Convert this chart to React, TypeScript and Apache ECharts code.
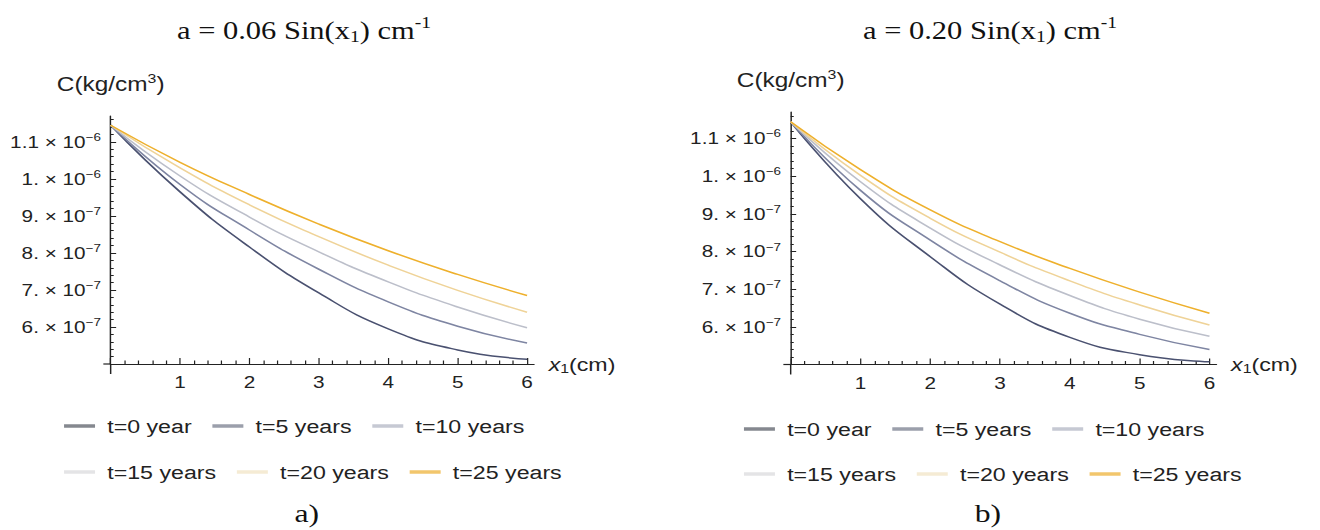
import { useEffect, useRef } from "react";
import * as echarts from "echarts";

// The figure is laid out on a narrower canvas and widened horizontally.
const STRETCH = 1.22;
const PAGE_W = 1320;
const PAGE_H = 530;
const CANVAS_W = PAGE_W / STRETCH;

const SANS = "Liberation Sans, Arial, sans-serif";
const SERIF = "Liberation Serif, Times New Roman, serif";
const TEXT = "#222";
const AXIS = "#222";

// x1 (cm)
const xValues = [0, 1, 2, 3, 4, 5, 6];

const seriesNames = ["t=0 year", "t=5 years", "t=10 years", "t=15 years", "t=20 years", "t=25 years"];

// Concentration C, in units of 1e-7 kg/cm3 — panel a), a = 0.06 Sin(x1)
const panelA_t0 = [11.45, 9.65, 8.16, 6.92, 5.95, 5.38, 5.13];
const panelA_t5 = [11.45, 9.85, 8.62, 7.56, 6.68, 6.02, 5.57];
const panelA_t10 = [11.45, 10.08, 8.97, 8.03, 7.22, 6.54, 5.98];
const panelA_t15: number[] = [];
const panelA_t20 = [11.45, 10.3, 9.3, 8.44, 7.67, 6.99, 6.4];
const panelA_t25 = [11.45, 10.45, 9.58, 8.78, 8.06, 7.42, 6.85];

// Panel b), a = 0.20 Sin(x1)
const panelB_t0 = [11.44, 9.4, 7.86, 6.6, 5.72, 5.26, 5.07];
const panelB_t5 = [11.44, 9.62, 8.3, 7.22, 6.36, 5.8, 5.4];
const panelB_t10 = [11.44, 9.85, 8.62, 7.64, 6.83, 6.2, 5.75];
const panelB_t15: number[] = [];
const panelB_t20 = [11.44, 10.02, 8.88, 7.98, 7.22, 6.58, 6.05];
const panelB_t25 = [11.44, 10.17, 9.1, 8.26, 7.55, 6.92, 6.36];

const panelA = [panelA_t0, panelA_t5, panelA_t10, panelA_t15, panelA_t20, panelA_t25];
const panelB = [panelB_t0, panelB_t5, panelB_t10, panelB_t15, panelB_t20, panelB_t25];

const panelCoefficients = ["0.06", "0.20"];
const panelCaptions = ["a)", "b)"];

// Axis ticks
const xTickValues = [0, 1, 2, 3, 4, 5, 6];
const xLabelValues = [1, 2, 3, 4, 5, 6];
const yTickValues = [5, 6, 7, 8, 9, 10, 11];
const yLabelValues = [6, 7, 8, 9, 10, 11];
const yLabelMantissas = ["6.", "7.", "8.", "9.", "1.", "1.1"];
const yLabelExponents = ["\u22127", "\u22127", "\u22127", "\u22127", "\u22126", "\u22126"];
const X_MIN = 0;
const X_MAX = 6.1;
const Y_MIN = 5;
const Y_MAX = 11.7;

const lineColors = ["#4a5170", "#7e85a2", "#bcbfca", "#dedee2", "#efd398", "#eeb02c"];
const legendColors = ["#85888f", "#9b9fab", "#c6c9d3", "#e4e4e6", "#f5ebd4", "#f2c66c"];

// Layout of the two panels (canvas units)
const panels = [
  { left: 90.7, top: 116, width: 347, height: 248, titleX: 249.2, captionX: 251.4, legendLeft: 52.5, legendTops: [415, 461] },
  { left: 648.1, top: 112, width: 349, height: 252.5, titleX: 811.5, captionX: 809.8, legendLeft: 609.8, legendTops: [418, 463] },
];

function yLabel(value: number): string {
  const i = yLabelValues.findIndex((v) => Math.abs(v - value) < 1e-6);
  if (i < 0) return "";
  return `{m|${yLabelMantissas[i]} \u00d7 10}{s|${yLabelExponents[i]}}`;
}

function buildOption() {
  const grid = panels.map((p) => ({ left: p.left, top: p.top, width: p.width, height: p.height }));

  const xAxis = panels.map((_, gi) => ({
    type: "value",
    gridIndex: gi,
    min: X_MIN,
    max: X_MAX,
    interval: 1,
    name: "{i|x}{sub|1}{a|(cm)}",
    nameLocation: "end",
    nameGap: 12,
    nameTextStyle: {
      rich: {
        i: { fontFamily: SANS, fontSize: 19, fontStyle: "italic", color: TEXT, lineHeight: 22 },
        sub: { fontFamily: SANS, fontSize: 13, color: TEXT, lineHeight: 10, verticalAlign: "bottom" },
        a: { fontFamily: SANS, fontSize: 19, color: TEXT, lineHeight: 22 },
      },
    },
    axisLine: { show: true, onZero: false, lineStyle: { color: AXIS, width: 1.2 } },
    axisTick: { show: true, inside: true, length: 6, customValues: xTickValues, lineStyle: { color: AXIS, width: 1 } },
    minorTick: { show: true, splitNumber: 5, length: 3.5, lineStyle: { color: AXIS, width: 1 } },
    axisLabel: {
      customValues: xLabelValues,
      formatter: (v: number) => String(v),
      margin: 10,
      fontFamily: SANS,
      fontSize: 17,
      color: TEXT,
    },
    splitLine: { show: false },
    minorSplitLine: { show: false },
  }));

  const yAxis = panels.map((_, gi) => ({
    type: "value",
    gridIndex: gi,
    min: Y_MIN,
    max: Y_MAX,
    interval: 1,
    name: "{a|C(kg/cm}{s|3}{a|)}",
    nameLocation: "end",
    nameGap: 20,
    nameTextStyle: {
      rich: {
        a: { fontFamily: SANS, fontSize: 20, color: TEXT, lineHeight: 24 },
        s: { fontFamily: SANS, fontSize: 13, color: TEXT, lineHeight: 10, verticalAlign: "top" },
      },
    },
    axisLine: { show: true, onZero: false, lineStyle: { color: AXIS, width: 1.2 } },
    axisTick: { show: true, inside: true, length: 4.5, customValues: yTickValues, lineStyle: { color: AXIS, width: 1 } },
    minorTick: { show: true, splitNumber: 5, length: 2.5, lineStyle: { color: AXIS, width: 1 } },
    axisLabel: {
      customValues: yLabelValues,
      formatter: yLabel,
      margin: 8,
      rich: {
        m: { fontFamily: SANS, fontSize: 17, color: TEXT, lineHeight: 20 },
        s: { fontFamily: SANS, fontSize: 11, color: TEXT, lineHeight: 8, verticalAlign: "top" },
      },
    },
    splitLine: { show: false },
    minorSplitLine: { show: false },
  }));

  const series: any[] = [];
  [panelA, panelB].forEach((panel, gi) => {
    panel.forEach((values, si) => {
      series.push({
        type: "line",
        name: seriesNames[si],
        xAxisIndex: gi,
        yAxisIndex: gi,
        data: values.map((v, j) => [xValues[j], v]),
        showSymbol: false,
        smooth: 0.5,
        silent: true,
        lineStyle: { color: lineColors[si], width: 1.5 },
        itemStyle: { color: legendColors[si] },
        z: 2 + si,
      });
    });
  });

  const legendItem = (name: string) => {
    const i = seriesNames.indexOf(name);
    return { name, icon: "rect", itemStyle: { color: legendColors[i], borderWidth: 0 } };
  };
  const legendBase = {
    orient: "horizontal",
    icon: "rect",
    itemWidth: 25.4,
    itemHeight: 3.5,
    itemGap: 17,
    padding: 0,
    selectedMode: false,
    textStyle: { fontFamily: SANS, fontSize: 19, color: TEXT, lineHeight: 22, padding: [0, 0, 0, 5] },
  };
  const legend: any[] = [];
  panels.forEach((p) => {
    legend.push({ ...legendBase, left: p.legendLeft, top: p.legendTops[0], data: seriesNames.slice(0, 3).map(legendItem) });
    legend.push({ ...legendBase, left: p.legendLeft, top: p.legendTops[1], data: seriesNames.slice(3).map(legendItem) });
  });

  const graphic: any[] = [];
  panels.forEach((p, gi) => {
    graphic.push({
      type: "text",
      x: p.titleX,
      y: 30,
      silent: true,
      style: {
        text: `{m|a = ${panelCoefficients[gi]} Sin(x}{sub|1}{m|) cm}{sup|-1}`,
        align: "center",
        verticalAlign: "middle",
        rich: {
          m: { fontFamily: SERIF, fontSize: 25, fill: "#111", lineHeight: 30 },
          sub: { fontFamily: SERIF, fontSize: 16, fill: "#111", lineHeight: 14, verticalAlign: "bottom" },
          sup: { fontFamily: SERIF, fontSize: 16, fill: "#111", lineHeight: 10, verticalAlign: "top" },
        },
      },
    });
    graphic.push({
      type: "text",
      x: p.captionX,
      y: 513,
      silent: true,
      style: {
        text: panelCaptions[gi],
        align: "center",
        verticalAlign: "middle",
        fontFamily: SERIF,
        fontSize: 26,
        fill: "#111",
      },
    });
  });

  return {
    animation: false,
    backgroundColor: "#ffffff",
    grid,
    xAxis,
    yAxis,
    legend,
    series,
    graphic,
  };
}

// Short stubs where the two axes cross, placed from the axis scales.
function axisStubs(chart: echarts.ECharts) {
  const extra: any[] = [];
  panels.forEach((_, gi) => {
    const o = chart.convertToPixel({ gridIndex: gi }, [X_MIN, Y_MIN]) as number[];
    if (!o) return;
    extra.push({
      type: "line",
      silent: true,
      shape: { x1: o[0], y1: o[1], x2: o[0], y2: o[1] + 10 },
      style: { stroke: AXIS, lineWidth: 1.2 },
    });
    extra.push({
      type: "line",
      silent: true,
      shape: { x1: o[0] - 6, y1: o[1], x2: o[0], y2: o[1] },
      style: { stroke: AXIS, lineWidth: 1.2 },
    });
  });
  return extra;
}

export default function App() {
  const ref = useRef<HTMLDivElement>(null);

  useEffect(() => {
    if (!ref.current) return;
    const chart = echarts.init(ref.current, null, { renderer: "svg" });
    const option: any = buildOption();
    chart.setOption(option);
    chart.setOption({ graphic: [...option.graphic, ...axisStubs(chart)] });
    return () => chart.dispose();
  }, []);

  return (
    <div
      ref={ref}
      style={{
        position: "absolute",
        left: 0,
        top: 0,
        width: CANVAS_W,
        height: PAGE_H,
        transform: `scaleX(${STRETCH})`,
        transformOrigin: "0 0",
        background: "#ffffff",
      }}
    />
  );
}
